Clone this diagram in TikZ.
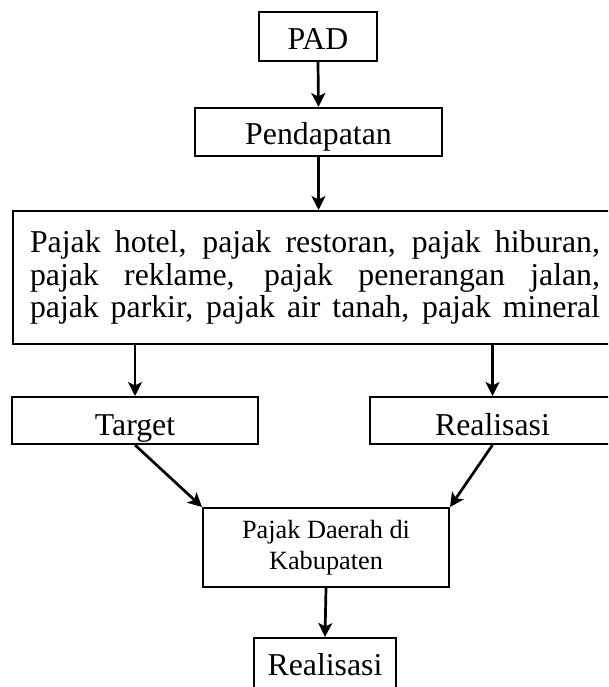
\documentclass[tikz,border=0pt]{standalone}
\usepackage{fontspec}
\setmainfont{Liberation Serif}
\usetikzlibrary{arrows.meta}
\newcommand{\jline}[1]{\hbox to 570pt{#1}}
\begin{document}
\begin{tikzpicture}[x=1pt,y=-1pt,
  box/.style={draw, line width=2pt, inner sep=0pt, font=\fontsize{31.8}{32}\selectfont, text depth=0pt},
  arr/.style={line width=2.7pt, -{Stealth[length=14pt,width=14pt,inset=3.5pt]}}]
\clip (0,0) rectangle (608,687);
\node[box, minimum width=118pt, minimum height=49pt, text height=27pt] (pad) at (318,36.5) {PAD};
\node[box, minimum width=247pt, minimum height=48pt, text height=26pt] (pend) at (318.5,132) {Pendapatan};
\node[draw, line width=2pt, inner sep=0pt, minimum width=604pt, minimum height=133pt,
      font=\fontsize{31.8}{32}\selectfont] (big) at (315,277.5)
  {\vbox{\baselineskip=32.5pt\lineskiplimit=-50pt\relax
   \jline{Pajak hotel, pajak restoran, pajak hiburan,}
   \jline{pajak reklame, pajak penerangan jalan,}
   \jline{pajak parkir, pajak air tanah, pajak mineral}}};
\node[box, minimum width=246pt, minimum height=47pt, text height=29pt] (target) at (135,420.5) {Target};
\node[box, minimum width=245pt, minimum height=47pt, text height=29pt] (real1) at (492.5,420.5) {Realisasi};
\node[draw, line width=2pt, inner sep=0pt, minimum width=246pt, minimum height=79pt] (pajak) at (326,547.5)
  {\parbox{240pt}{\centering\fontsize{26.3}{31}\selectfont Pajak Daerah di\\Kabupaten}};
\node[box, minimum width=142pt, minimum height=62pt, text height=12pt] (real2) at (325,669) {Realisasi};
\draw[arr] (pad.south) -- (pend.north);
\draw[arr] (pend.south) -- (pend.south |- big.north);
\draw[arr] (target.north |- big.south) -- (target.north);
\draw[arr] (real1.north |- big.south) -- (real1.north);
\draw[arr] (target.south) -- (pajak.north west);
\draw[arr] (real1.south) -- (pajak.north east);
\draw[arr] (pajak.south) -- (real2.north);
\end{tikzpicture}
\end{document}
